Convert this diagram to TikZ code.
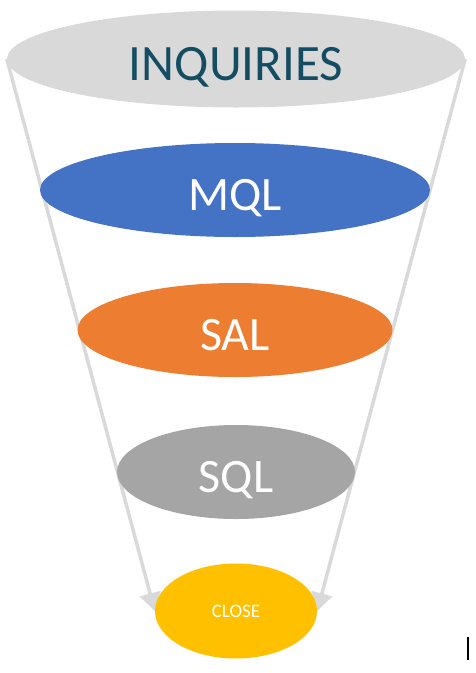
\documentclass[tikz,border=0pt]{standalone}
\usepackage{fontspec}
\setmainfont{Carlito}
\usetikzlibrary{shapes.geometric,arrows.meta,backgrounds}
\definecolor{funnelgray}{RGB}{217,217,217}
\definecolor{inqtext}{RGB}{20,76,98}
\definecolor{mqlblue}{RGB}{68,114,196}
\definecolor{salorange}{RGB}{237,125,49}
\definecolor{sqlgray}{RGB}{165,165,165}
\definecolor{closegold}{RGB}{255,192,0}

\begin{document}
\begin{tikzpicture}[x=1pt,y=-1pt,
	every node/.style={ellipse,inner sep=0pt,text=white},
	stage/.style={minimum height=94pt,font=\fontsize{48}{56}\selectfont,text height=40pt,text depth=0pt},
	funnel/.style={draw=funnelgray,line width=3.5pt,-{Triangle[length=18pt,width=21pt]}}]
	\useasboundingbox (0,0) rectangle (476,673);
	% funnel stages, top to bottom
	\node[stage,fill=funnelgray,text=inqtext,minimum width=458pt,minimum height=97pt,font=\fontsize{51}{58}\selectfont,text height=42pt] (inq) at (236,59) {INQUIRIES};
	\node[stage,fill=mqlblue,minimum width=390pt] (mql) at (235,190) {MQL};
	\node[stage,fill=salorange,minimum width=315pt] (sal) at (235,330) {SAL};
	\node[stage,fill=sqlgray,minimum width=238pt] (sql) at (236,472) {SQL};
	\node[fill=closegold,minimum width=162pt,minimum height=95pt,font=\fontsize{19}{22}\selectfont,text height=13pt,text depth=0pt] (close) at (236,611) {CLOSE};
	% funnel sides
	\begin{scope}[on background layer]
		\draw[funnel] (inq.west) -- (close.west);
		\draw[funnel] (inq.east) -- (close.east);
	\end{scope}
	\draw[line width=1.2pt] (468,637) -- (468,660);
\end{tikzpicture}
\end{document}
